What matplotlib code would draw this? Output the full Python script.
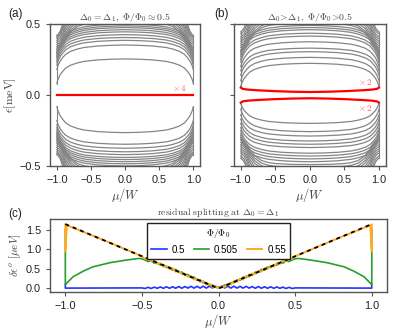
import numpy as np
import matplotlib
matplotlib.use('Agg')
import matplotlib.pyplot as plt

plt.rcParams['mathtext.fontset'] = 'cm'
plt.rcParams['font.family'] = 'Liberation Sans'
plt.rcParams['font.size'] = 7.5

# ---- panel (a) / (b): band energies ----
# shape of the bend towards mu = +-1 (0 = value at mu=0, 1 = value at the edge)
mu_in = [-1.0, -0.99, -0.98, -0.95, -0.91, -0.87, -0.8, -0.7, -0.6, -0.4, -0.2, 0.0,
         0.2, 0.4, 0.6, 0.7, 0.8, 0.87, 0.91, 0.95, 0.98, 0.99, 1.0]
bend_in = [1.0, 0.91, 0.82, 0.65, 0.5, 0.38, 0.26, 0.165, 0.1, 0.04, 0.012, 0.0,
           0.012, 0.04, 0.1, 0.165, 0.26, 0.38, 0.5, 0.65, 0.82, 0.91, 1.0]
# outer bands (coming in from above/below) bend earlier
mu_out = [-1.0, -0.98, -0.95, -0.91, -0.87, -0.8, -0.7, -0.6, -0.5, -0.3, 0.0,
          0.3, 0.5, 0.6, 0.7, 0.8, 0.87, 0.91, 0.95, 0.98, 1.0]
bend_out = [1.0, 0.98, 0.93, 0.8, 0.6, 0.35, 0.16, 0.08, 0.04, 0.01, 0.0,
            0.01, 0.04, 0.08, 0.16, 0.35, 0.6, 0.8, 0.93, 0.98, 1.0]

# (a) energies at mu = 0 and at mu = +-1
a_in_mid = [0.254, 0.352, 0.385, 0.405, 0.425, 0.445, 0.46, 0.475, 0.487, 0.5]
a_in_end = [0.084, 0.18, 0.21, 0.23, 0.245, 0.26, 0.27, 0.28, 0.29, 0.30]
a_out_mid = [0.515, 0.53, 0.55, 0.57, 0.6, 0.63, 0.67, 0.72, 0.78, 0.85]
a_out_end = [0.31, 0.32, 0.33, 0.34, 0.355, 0.37, 0.385, 0.40, 0.41, 0.42]
a_in_mid_dn = [-0.265, -0.347, -0.375, -0.40, -0.42, -0.44, -0.455, -0.47, -0.485, -0.5]
a_in_end_dn = [-0.084, -0.18, -0.21, -0.23, -0.245, -0.26, -0.27, -0.28, -0.29, -0.30]
a_out_mid_dn = [-0.515, -0.53, -0.55, -0.57, -0.6, -0.63, -0.67, -0.72, -0.78, -0.85]
a_out_end_dn = [-0.31, -0.32, -0.33, -0.34, -0.355, -0.37, -0.385, -0.40, -0.41, -0.42]

# (b) energies at mu = 0 and at mu = +-1
b_in_mid = [0.223, 0.265, 0.305, 0.33, 0.375, 0.415, 0.435, 0.46, 0.475, 0.49]
b_in_end = [0.06, 0.10, 0.14, 0.17, 0.20, 0.23, 0.25, 0.27, 0.285, 0.30]
b_out_mid = [0.505, 0.52, 0.54, 0.56, 0.59, 0.62, 0.66, 0.71, 0.77, 0.84]
b_out_end = [0.31, 0.32, 0.335, 0.35, 0.365, 0.38, 0.395, 0.41, 0.43, 0.445]
b_in_mid_dn = [-0.20, -0.258, -0.289, -0.324, -0.347, -0.37, -0.41, -0.43, -0.45, -0.47]
b_in_end_dn = [-0.06, -0.10, -0.14, -0.17, -0.20, -0.23, -0.25, -0.27, -0.285, -0.30]
b_out_mid_dn = [-0.49, -0.51, -0.53, -0.55, -0.58, -0.61, -0.65, -0.70, -0.76, -0.83]
b_out_end_dn = [-0.31, -0.32, -0.335, -0.35, -0.365, -0.38, -0.395, -0.41, -0.43, -0.445]

# end points piling up at mu = +-1
edge_mu = [-1.0, 1.0]
edge_span_a = [0.08, 0.42]
edge_span_b = [0.06, 0.445]

# zero modes (red)
zero_mu_a = [-1.0, 1.0]
zero_e_a = [0.0, 0.0]
red_mu_b = [-1.0, -0.97, -0.9, -0.75, -0.5, -0.25, 0.0, 0.25, 0.5, 0.75, 0.9, 0.97, 1.0]
red_up_b = [0.052, 0.043, 0.038, 0.033, 0.027, 0.023, 0.021, 0.023, 0.027, 0.033, 0.038, 0.043, 0.052]
red_dn_b = [-0.054, -0.045, -0.040, -0.035, -0.029, -0.025, -0.023, -0.025, -0.029, -0.035, -0.040, -0.045, -0.054]

# ---- panel (c): residual splitting ----
v_mu = [-1.0, 0.0, 1.0]
v_val = [1.65, 0.0, 1.65]

mu_mid = np.linspace(-0.5, 0.5, 51)
orange_mid = [0.83, 0.76, 0.78, 0.70, 0.71, 0.63, 0.65, 0.56, 0.58, 0.50, 0.52, 0.43, 0.45,
              0.37, 0.38, 0.30, 0.32, 0.23, 0.25, 0.17, 0.19, 0.10, 0.12, 0.04, 0.05, 0.01,
              0.05, 0.04, 0.12, 0.10, 0.19, 0.17, 0.25, 0.23, 0.32, 0.30, 0.38, 0.37, 0.45,
              0.43, 0.52, 0.50, 0.58, 0.56, 0.65, 0.63, 0.71, 0.70, 0.78, 0.76, 0.83]
green_mid = [0.76, 0.73, 0.69, 0.71, 0.65, 0.66, 0.60, 0.61, 0.54, 0.55, 0.47, 0.49, 0.41,
             0.42, 0.34, 0.36, 0.28, 0.29, 0.21, 0.22, 0.15, 0.15, 0.08, 0.09, 0.03, 0.02,
             0.03, 0.09, 0.08, 0.15, 0.15, 0.22, 0.21, 0.29, 0.28, 0.36, 0.34, 0.42, 0.41,
             0.49, 0.47, 0.55, 0.54, 0.61, 0.60, 0.66, 0.65, 0.71, 0.69, 0.73, 0.76]
blue_mid = [0.015, 0.0, 0.03, 0.0, 0.035, 0.005, 0.04, 0.005, 0.045, 0.005, 0.045, 0.005, 0.05,
            0.005, 0.05, 0.01, 0.055, 0.01, 0.055, 0.01, 0.06, 0.01, 0.06, 0.015, 0.06, 0.02,
            0.06, 0.015, 0.06, 0.01, 0.06, 0.01, 0.055, 0.01, 0.055, 0.01, 0.05, 0.005, 0.05,
            0.005, 0.045, 0.005, 0.045, 0.005, 0.04, 0.005, 0.035, 0.0, 0.03, 0.0, 0.015]

orange_l_mu = [-1.0, -1.0, -0.99, -0.75, -0.52]
orange_l = [1.64, 0.95, 1.62, 1.24, 0.86]
orange_r_mu = [0.52, 0.75, 0.99, 1.0, 1.0]
orange_r = [0.86, 1.24, 1.62, 0.95, 1.64]
green_l_mu = [-1.0, -1.0, -0.99, -0.95, -0.88, -0.82, -0.71, -0.6, -0.52]
green_l = [1.5, 0.10, 0.14, 0.30, 0.45, 0.555, 0.66, 0.73, 0.77]
green_r_mu = [0.52, 0.6, 0.71, 0.82, 0.88, 0.95, 0.99, 1.0, 1.0]
green_r = [0.77, 0.73, 0.66, 0.555, 0.45, 0.30, 0.14, 0.10, 1.5]
blue_l_mu = [-1.0, -1.0, -0.99, -0.52]
blue_l = [0.10, 0.01, 0.01, 0.015]
blue_r_mu = [0.52, 0.99, 1.0, 1.0]
blue_r = [0.015, 0.01, 0.01, 0.10]

flux_labels = ['0.5', '0.505', '0.55']

gray = '#858585'
spine_col = '#555555'
lbl_col = '#444444'
red_txt = '#ff6060'


def style_axes(ax):
    for s in ax.spines.values():
        s.set_color(spine_col)
        s.set_linewidth(1.0)
    ax.tick_params(colors=spine_col, labelcolor='#222222', length=3, width=0.8, labelsize=7.8)


def draw_set(ax, mu, shape, mids, ends):
    mu = np.array(mu)
    shape = np.array(shape)
    for e0, e1 in zip(mids, ends):
        ax.plot(mu, e0 + (e1 - e0) * shape, color=gray, lw=0.9)


def draw_edges(ax, span):
    for m in edge_mu:
        ax.plot([m, m], [span[0], span[1]], color=gray, lw=0.8)
        ax.plot([m, m], [-span[0], -span[1]], color=gray, lw=0.8)


fig = plt.figure(figsize=(3.97, 3.31), dpi=100)
ax_a = fig.add_axes([0.126, 0.4985, 0.378, 0.429])
ax_b = fig.add_axes([0.589, 0.4985, 0.383, 0.429])
ax_c = fig.add_axes([0.126, 0.1178, 0.849, 0.2205])

# (a)
draw_set(ax_a, mu_in, bend_in, a_in_mid, a_in_end)
draw_set(ax_a, mu_in, bend_in, a_in_mid_dn, a_in_end_dn)
draw_set(ax_a, mu_out, bend_out, a_out_mid, a_out_end)
draw_set(ax_a, mu_out, bend_out, a_out_mid_dn, a_out_end_dn)
draw_edges(ax_a, edge_span_a)
ax_a.plot(zero_mu_a, zero_e_a, color='red', lw=1.6)
ax_a.text(0.8, 0.012, r'$\times\,4$', color=red_txt, fontsize=6.5, ha='center', va='bottom')
ax_a.set_xlim(-1.1, 1.1)
ax_a.set_ylim(-0.5, 0.5)
ax_a.set_yticks([-0.5, 0.0, 0.5])
ax_a.set_xticks([-1.0, -0.5, 0.0, 0.5, 1.0])
ax_a.set_xlabel(r'$\mu/W$', color=lbl_col, fontsize=9, labelpad=1)
ax_a.set_ylabel(r'$\epsilon[\mathrm{meV}]$', color=lbl_col, fontsize=8.5, labelpad=1)
ax_a.set_title(r'$\Delta_0=\Delta_1,\ \Phi/\Phi_0\approx0.5$', fontsize=7, color=lbl_col, pad=3)
style_axes(ax_a)

# (b)
draw_set(ax_b, mu_in, bend_in, b_in_mid, b_in_end)
draw_set(ax_b, mu_in, bend_in, b_in_mid_dn, b_in_end_dn)
draw_set(ax_b, mu_out, bend_out, b_out_mid, b_out_end)
draw_set(ax_b, mu_out, bend_out, b_out_mid_dn, b_out_end_dn)
draw_edges(ax_b, edge_span_b)
ax_b.plot(red_mu_b, red_up_b, color='red', lw=1.6)
ax_b.plot(red_mu_b, red_dn_b, color='red', lw=1.6)
ax_b.text(0.8, 0.055, r'$\times\,2$', color=red_txt, fontsize=6.5, ha='center', va='bottom')
ax_b.text(0.8, -0.055, r'$\times\,2$', color=red_txt, fontsize=6.5, ha='center', va='top')
ax_b.set_xlim(-1.1, 1.1)
ax_b.set_ylim(-0.5, 0.5)
ax_b.set_yticks([-0.5, 0.0, 0.5])
ax_b.set_yticklabels([])
ax_b.set_xticks([-1.0, -0.5, 0.0, 0.5, 1.0])
ax_b.set_xlabel(r'$\mu/W$', color=lbl_col, fontsize=9, labelpad=1)
ax_b.set_title(r'$\Delta_0\!>\!\Delta_1,\ \Phi/\Phi_0\!>\!0.5$', fontsize=7, color=lbl_col, pad=3)
style_axes(ax_b)

# (c)
blue_mu = np.concatenate([blue_l_mu, mu_mid, blue_r_mu])
blue_val = np.concatenate([blue_l, blue_mid, blue_r])
green_mu = np.concatenate([green_l_mu, mu_mid, green_r_mu])
green_val = np.concatenate([green_l, green_mid, green_r])
orange_mu = np.concatenate([orange_l_mu, mu_mid, orange_r_mu])
orange_val = np.concatenate([orange_l, orange_mid, orange_r])

ax_c.plot(blue_mu, blue_val, color='#2233ff', lw=1.2, label=flux_labels[0])
ax_c.plot(green_mu, green_val, color='#2a9d2a', lw=1.2, label=flux_labels[1])
ax_c.plot(orange_mu, orange_val, color='#ffaa22', lw=1.4, label=flux_labels[2])
ax_c.plot(v_mu, v_val, color='black', lw=1.3, ls=(0, (2.2, 2.2)))
ax_c.set_xlim(-1.1, 1.1)
ax_c.set_ylim(-0.09, 1.78)
ax_c.set_xticks([-1.0, -0.5, 0.0, 0.5, 1.0])
ax_c.set_yticks([0.0, 0.5, 1.0, 1.5])
ax_c.set_xlabel(r'$\mu/W$', color=lbl_col, fontsize=9, labelpad=1)
ax_c.set_ylabel(r'$\delta\epsilon^{o}\ [\mu eV]$', color=lbl_col, fontsize=8, labelpad=2)
ax_c.set_title(r'$\mathrm{residual\ splitting\ at}\ \Delta_0=\Delta_1$', fontsize=7, color=lbl_col, pad=3)
leg = ax_c.legend(loc='upper center', ncol=3, title=r'$\Phi/\Phi_0$', fontsize=7,
                  title_fontsize=7, fancybox=False, framealpha=1, edgecolor='#222222',
                  handlelength=1.6, handletextpad=0.5, columnspacing=0.9, borderaxespad=0.4)
leg.get_frame().set_linewidth(1.0)
style_axes(ax_c)

fig.text(0.02, 0.948, '(a)', fontsize=8.5, color='#222222')
fig.text(0.54, 0.948, '(b)', fontsize=8.5, color='#222222')
fig.text(0.02, 0.345, '(c)', fontsize=8.5, color='#222222')

fig.savefig('out.png', dpi=100)
